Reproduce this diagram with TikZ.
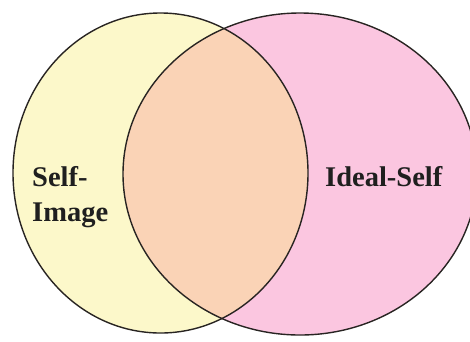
\documentclass[tikz,border=0pt]{standalone}
\usepackage{fontspec}
\setmainfont{Liberation Serif}[BoldFont={Liberation Serif Bold}]
\definecolor{selfimg}{RGB}{252,248,202}
\definecolor{idealself}{RGB}{251,198,224}
\definecolor{overlap}{RGB}{250,211,182}
\definecolor{rimline}{RGB}{40,36,34}

\begin{document}
\begin{tikzpicture}[x=1pt,y=-1pt,
  rim/.style={draw=rimline,line width=1.4pt},
  lbl/.style={font=\rmfamily\bfseries\fontsize{28.5}{35}\selectfont,text=black!88,inner sep=0pt}]
 \useasboundingbox (0,0) rectangle (470,341);
 \clip (0,0) rectangle (470,341);
 \coordinate (cl) at (160.5,173);
 \coordinate (cr) at (300,174);
 \fill[selfimg] (cl) ellipse [x radius=147.5,y radius=160];
 \fill[idealself] (cr) ellipse [x radius=177,y radius=161];
 % overlap of the two
 \begin{scope}
  \clip (cl) ellipse [x radius=147.5,y radius=160];
  \fill[overlap] (cr) ellipse [x radius=177,y radius=161];
 \end{scope}
 \draw[rim] (cl) ellipse [x radius=147.5,y radius=160];
 \draw[rim] (cr) ellipse [x radius=177,y radius=161];
 \node[lbl,align=left,anchor=base west] (img) at (32,221) {Self-\\Image};
 \node[lbl,anchor=base west] (ideal) at (325,186) {Ideal-Self};
\end{tikzpicture}
\end{document}
